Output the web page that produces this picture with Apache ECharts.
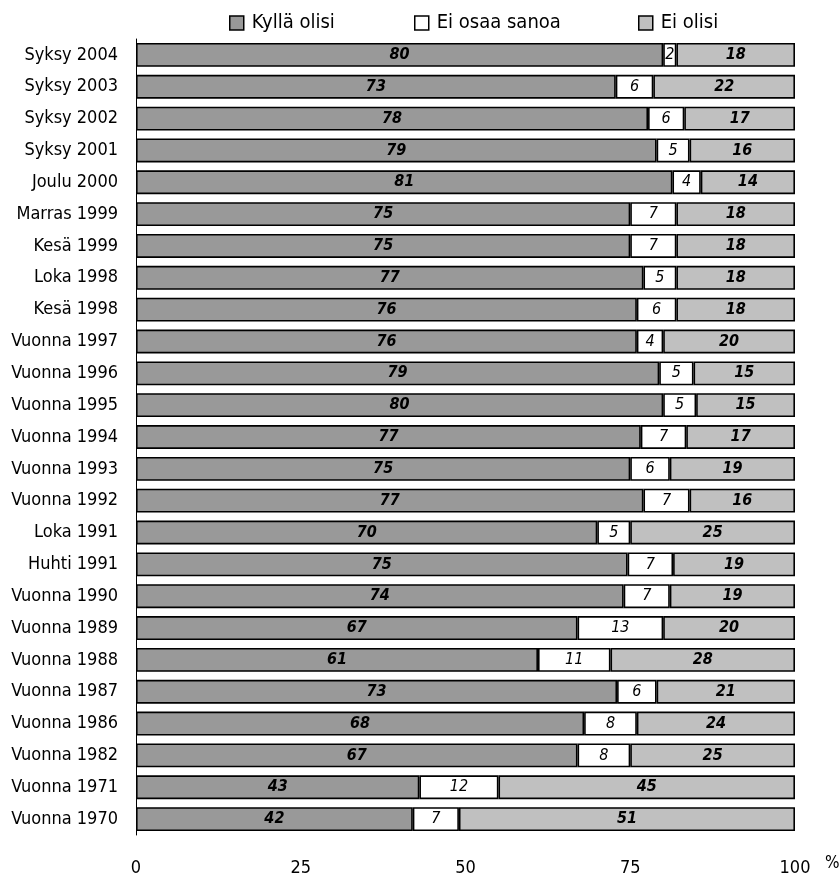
<!DOCTYPE html>
<html>
<head>
<meta charset="utf-8">
<script src="https://cdn.jsdelivr.net/npm/echarts@6/dist/echarts.min.js"></script>
<style>html,body{margin:0;padding:0;background:#fff}#c{width:840px;height:880px}</style>
</head>
<body>
<div id="c"></div>
<script>
const categories = ["Syksy 2004","Syksy 2003","Syksy 2002","Syksy 2001","Joulu 2000","Marras 1999","Kesä 1999","Loka 1998","Kesä 1998","Vuonna 1997","Vuonna 1996","Vuonna 1995","Vuonna 1994","Vuonna 1993","Vuonna 1992","Loka 1991","Huhti 1991","Vuonna 1990","Vuonna 1989","Vuonna 1988","Vuonna 1987","Vuonna 1986","Vuonna 1982","Vuonna 1971","Vuonna 1970"];
const kyllaOlisi = [80,72.8,77.7,79,81.4,75,75,77,76,76,79.4,80,76.6,75,77,70,74.6,74,67,61,73,68,67,43,42];
const eiOsaaSanoa = [2,5.7,5.5,5,4.3,7,7,5,6,4,5.2,5,6.9,6,7,5,6.9,7,13,11,6,8,8,12,7];
const eiOlisi = [18,21.5,16.8,16,14.3,18,18,18,18,20,15.4,15,16.5,19,16,25,18.5,19,20,28,21,24,25,45,51];
const xTicks = [0,25,50,75,100];
const seriesNames = ["Kyllä olisi","Ei osaa sanoa","Ei olisi"];

const FONT = "'DejaVu Sans Condensed', Roboto, sans-serif";
const chart = echarts.init(document.getElementById('c'), null, {renderer:'canvas'});
const mk = (name, data, color, weight) => ({
  name, type:'bar', stack:'s', data, barCategoryGap:'25%',
  itemStyle:{color, borderColor:'#000', borderWidth:1.6},
  label:{show:true, position:'inside', color:'#000', fontFamily:FONT, fontStyle:'italic', fontWeight:weight, fontSize:16,
    formatter:p=>Math.round(p.value)},
  emphasis:{disabled:true}
});
const legendBase = {top:8, itemWidth:14, itemHeight:14, itemGap:0, icon:'rect',
  textStyle:{fontFamily:FONT, fontSize:20, color:'#000', padding:[0,0,0,3]},
  itemStyle:{borderColor:'#000', borderWidth:1.5}, selectedMode:false};
chart.setOption({
  animation:false,
  textStyle:{fontFamily:FONT},
  legend:[
    Object.assign({}, legendBase, {left:224, data:[seriesNames[0]]}),
    Object.assign({}, legendBase, {left:409, data:[seriesNames[1]]}),
    Object.assign({}, legendBase, {left:633, data:[seriesNames[2]]})
  ],
  grid:{left:136, right:45, top:39, bottom:45, containLabel:false},
  xAxis:{type:'value', min:0, max:100, interval:25,
    axisLine:{show:false}, axisTick:{show:false}, splitLine:{show:false},
    axisLabel:{fontFamily:FONT, fontSize:18, color:'#000', margin:24,
      formatter:v=>xTicks.includes(v)?String(v):''}},
  yAxis:{type:'category', data:categories, inverse:true,
    axisLine:{show:true, lineStyle:{color:'#000', width:1}}, axisTick:{show:false},
    axisLabel:{fontFamily:FONT, fontSize:18, color:'#000', margin:18}},
  graphic:[{type:'text', left:825, top:855, style:{text:'%', fontFamily:FONT, fontSize:17, fill:'#000'}}],
  series:[
    mk(seriesNames[0], kyllaOlisi, '#999999', 'bold'),
    mk(seriesNames[1], eiOsaaSanoa, '#ffffff', 'normal'),
    mk(seriesNames[2], eiOlisi, '#c0c0c0', 'bold')
  ]
});
</script>
</body>
</html>
